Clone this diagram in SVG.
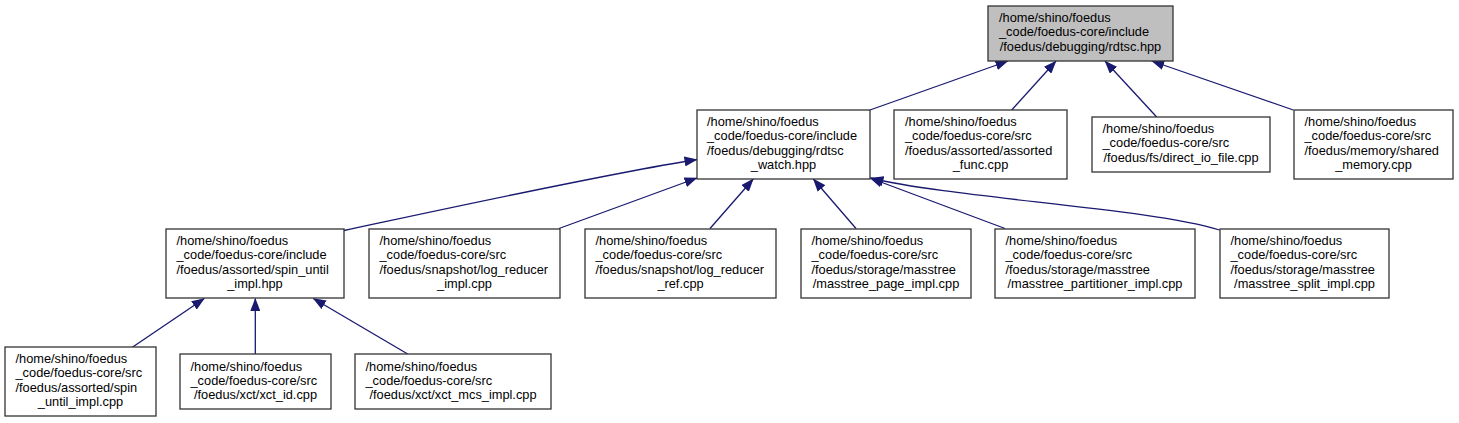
<svg xmlns="http://www.w3.org/2000/svg" width="1459" height="423" viewBox="0 0 1459 423">
<style>
.n rect{fill:#ffffff;stroke:#333333;stroke-width:1.3}
.n.hl rect{fill:#bfbfbf}
.n text{font-family:"Liberation Sans",Arial,Helvetica,sans-serif;font-size:12.8px;fill:#000000}
.c{text-anchor:middle}
#edges path{fill:none;stroke:#191970;stroke-width:1.3;marker-end:url(#arr)}
</style>
<defs>
<marker id="arr" markerUnits="userSpaceOnUse" viewBox="0 0 13 10" markerWidth="13" markerHeight="10" refX="12.5" refY="5" orient="auto">
<path d="M0,0 L13,5 L0,10 z" fill="#191970"/>
</marker>
</defs>
<rect width="1459" height="423" fill="#ffffff"/>
<g id="edges">
<path d="M870,110 L1008,61"/>
<path d="M1011.7,110 L1056,61"/>
<path d="M1156.7,117 L1105,61"/>
<path d="M1293.3,110 L1151.7,61"/>
<path d="M344,230.5 C440,210 600,175 697,159.5"/>
<path d="M559,228.5 L697,178"/>
<path d="M710,228.5 L753.3,179"/>
<path d="M856,228.5 L813.3,179"/>
<path d="M1005,228.5 L870,178"/>
<path d="M1219.5,230 C1150,208 950,198 871,178"/>
<path d="M132.7,347 L204.3,298.5"/>
<path d="M255.3,354 L255.3,298.5"/>
<path d="M407.7,354 L313.3,298.5"/>
</g>
<g id="node_rdtsc_hpp" class="n hl">
<rect x="988" y="6" width="185" height="55"/>
<text><tspan x="999" y="22">/home/shino/foedus</tspan><tspan x="999" y="36.4">_code/foedus-core/include</tspan><tspan x="1080.5" y="50.8" class="c">/foedus/debugging/rdtsc.hpp</tspan></text>
</g>
<g id="node_rdtsc_watch_hpp" class="n">
<rect x="697" y="110" width="173" height="69"/>
<text><tspan x="707" y="126">/home/shino/foedus</tspan><tspan x="707" y="140.4">_code/foedus-core/include</tspan><tspan x="707" y="154.8">/foedus/debugging/rdtsc</tspan><tspan x="783.5" y="169.2" class="c">_watch.hpp</tspan></text>
</g>
<g id="node_assorted_func_cpp" class="n">
<rect x="894" y="110" width="173" height="69"/>
<text><tspan x="905" y="126">/home/shino/foedus</tspan><tspan x="905" y="140.4">_code/foedus-core/src</tspan><tspan x="905" y="154.8">/foedus/assorted/assorted</tspan><tspan x="980.5" y="169.2" class="c">_func.cpp</tspan></text>
</g>
<g id="node_direct_io_file_cpp" class="n">
<rect x="1092" y="117" width="178" height="55"/>
<text><tspan x="1102.5" y="133">/home/shino/foedus</tspan><tspan x="1102.5" y="147.4">_code/foedus-core/src</tspan><tspan x="1181" y="161.8" class="c">/foedus/fs/direct_io_file.cpp</tspan></text>
</g>
<g id="node_shared_memory_cpp" class="n">
<rect x="1294" y="110" width="159" height="69"/>
<text><tspan x="1304.5" y="126">/home/shino/foedus</tspan><tspan x="1304.5" y="140.4">_code/foedus-core/src</tspan><tspan x="1304.5" y="154.8">/foedus/memory/shared</tspan><tspan x="1373.5" y="169.2" class="c">_memory.cpp</tspan></text>
</g>
<g id="node_spin_until_impl_hpp" class="n">
<rect x="166" y="229" width="178" height="69"/>
<text><tspan x="176.5" y="245">/home/shino/foedus</tspan><tspan x="176.5" y="259.4">_code/foedus-core/include</tspan><tspan x="176.5" y="273.8">/foedus/assorted/spin_until</tspan><tspan x="255" y="288.2" class="c">_impl.hpp</tspan></text>
</g>
<g id="node_log_reducer_impl_cpp" class="n">
<rect x="369" y="229" width="191" height="69"/>
<text><tspan x="379.5" y="245">/home/shino/foedus</tspan><tspan x="379.5" y="259.4">_code/foedus-core/src</tspan><tspan x="379.5" y="273.8">/foedus/snapshot/log_reducer</tspan><tspan x="464.5" y="288.2" class="c">_impl.cpp</tspan></text>
</g>
<g id="node_log_reducer_ref_cpp" class="n">
<rect x="585" y="229" width="191" height="69"/>
<text><tspan x="595.5" y="245">/home/shino/foedus</tspan><tspan x="595.5" y="259.4">_code/foedus-core/src</tspan><tspan x="595.5" y="273.8">/foedus/snapshot/log_reducer</tspan><tspan x="680.5" y="288.2" class="c">_ref.cpp</tspan></text>
</g>
<g id="node_masstree_page_impl_cpp" class="n">
<rect x="801" y="229" width="170" height="69"/>
<text><tspan x="811.5" y="245">/home/shino/foedus</tspan><tspan x="811.5" y="259.4">_code/foedus-core/src</tspan><tspan x="811.5" y="273.8">/foedus/storage/masstree</tspan><tspan x="886" y="288.2" class="c">/masstree_page_impl.cpp</tspan></text>
</g>
<g id="node_masstree_partitioner_impl_cpp" class="n">
<rect x="995" y="229" width="200" height="69"/>
<text><tspan x="1005.5" y="245">/home/shino/foedus</tspan><tspan x="1005.5" y="259.4">_code/foedus-core/src</tspan><tspan x="1005.5" y="273.8">/foedus/storage/masstree</tspan><tspan x="1095" y="288.2" class="c">/masstree_partitioner_impl.cpp</tspan></text>
</g>
<g id="node_masstree_split_impl_cpp" class="n">
<rect x="1220" y="229" width="169" height="69"/>
<text><tspan x="1230.5" y="245">/home/shino/foedus</tspan><tspan x="1230.5" y="259.4">_code/foedus-core/src</tspan><tspan x="1230.5" y="273.8">/foedus/storage/masstree</tspan><tspan x="1304.5" y="288.2" class="c">/masstree_split_impl.cpp</tspan></text>
</g>
<g id="node_spin_until_impl_cpp" class="n">
<rect x="5" y="347" width="151" height="69"/>
<text><tspan x="15.5" y="363">/home/shino/foedus</tspan><tspan x="15.5" y="377.4">_code/foedus-core/src</tspan><tspan x="15.5" y="391.8">/foedus/assorted/spin</tspan><tspan x="80.5" y="406.2" class="c">_until_impl.cpp</tspan></text>
</g>
<g id="node_xct_id_cpp" class="n">
<rect x="180" y="354" width="151" height="55"/>
<text><tspan x="190.5" y="370.5">/home/shino/foedus</tspan><tspan x="190.5" y="384.9">_code/foedus-core/src</tspan><tspan x="255.5" y="399.3" class="c">/foedus/xct/xct_id.cpp</tspan></text>
</g>
<g id="node_xct_mcs_impl_cpp" class="n">
<rect x="355" y="354" width="196" height="55"/>
<text><tspan x="365.5" y="370.5">/home/shino/foedus</tspan><tspan x="365.5" y="384.9">_code/foedus-core/src</tspan><tspan x="453" y="399.3" class="c">/foedus/xct/xct_mcs_impl.cpp</tspan></text>
</g>
</svg>
